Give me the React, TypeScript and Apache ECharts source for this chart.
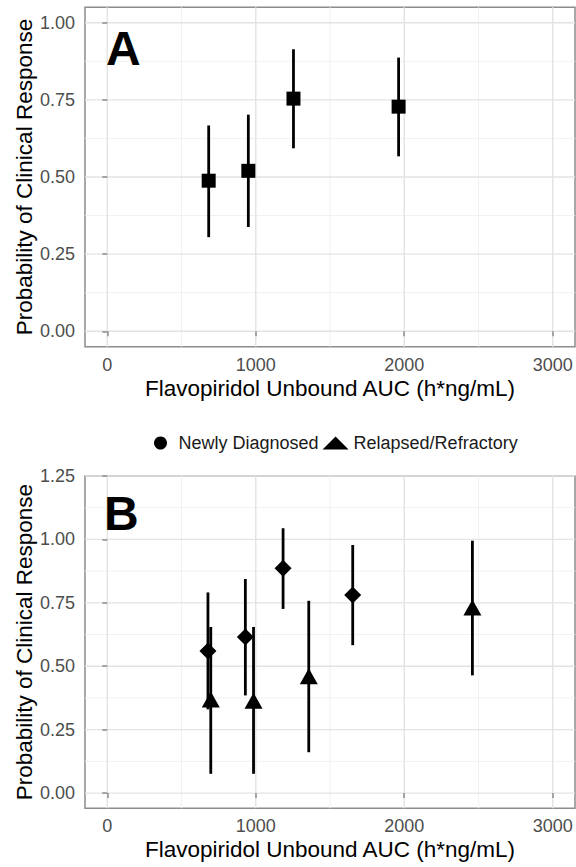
import React, { useEffect, useRef } from "react";
import * as echarts from "echarts";

// Panel A: all patients
const aucA = [683, 950, 1254, 1962];
const probA = [0.488, 0.52, 0.754, 0.728];
const lowA = [0.305, 0.338, 0.593, 0.567];
const highA = [0.667, 0.702, 0.914, 0.887];

// Panel B: Newly Diagnosed
const aucND = [678, 930, 1184, 1653];
const probND = [0.56, 0.615, 0.886, 0.781];
const lowND = [0.33, 0.385, 0.726, 0.583];
const highND = [0.791, 0.844, 1.044, 0.978];

// Panel B: Relapsed/Refractory
const aucRR = [697, 985, 1357, 2459];
const probRR = [0.369, 0.364, 0.461, 0.732];
const lowRR = [0.076, 0.076, 0.161, 0.464];
const highRR = [0.655, 0.655, 0.758, 0.995];

// Axis breaks
const xTicks = [0, 1000, 2000, 3000];
const xMinor = [500, 1500, 2500];
const yTicksA = [0, 0.25, 0.5, 0.75, 1.0];
const yMinorA = [0.125, 0.375, 0.625, 0.875];
const yTicksB = [0, 0.25, 0.5, 0.75, 1.0, 1.25];
const yMinorB = [0.125, 0.375, 0.625, 0.875, 1.125];

const FONT = "Liberation Sans, Arial, sans-serif";
const BORDER = "#8c8c8c";

function gridData(yMajor: number[], yMinor: number[]) {
  return [
    ...yMinor.map((v) => [v, 1]),
    ...xMinor.map((v) => [v, 3]),
    ...yMajor.map((v) => [v, 0]),
    ...xTicks.map((v) => [v, 2]),
  ];
}

function gridRender(params: any, api: any) {
  const v = api.value(0);
  const k = api.value(1);
  const cs = params.coordSys;
  const major = k === 0 || k === 2;
  const style = { stroke: major ? "#e3e3e3" : "#f1f1f1", lineWidth: major ? 1.4 : 1 };
  if (k === 0 || k === 1) {
    const y = api.coord([0, v])[1];
    return { type: "line", shape: { x1: cs.x, y1: y, x2: cs.x + cs.width, y2: y }, style };
  }
  const x = api.coord([v, 0])[0];
  return { type: "line", shape: { x1: x, y1: cs.y, x2: x, y2: cs.y + cs.height }, style };
}

function barRender(params: any, api: any) {
  const x = api.value(0);
  const p1 = api.coord([x, api.value(1)]);
  const p2 = api.coord([x, api.value(2)]);
  return {
    type: "line",
    shape: { x1: p1[0], y1: p1[1], x2: p2[0], y2: p2[1] },
    style: { stroke: "#000", lineWidth: 2.8 },
  };
}

function xAxisOpt(gridIndex: number) {
  return {
    type: "value",
    gridIndex,
    min: -150,
    max: 3150,
    axisLine: { show: false },
    axisTick: { show: true, length: 5, lineStyle: { color: BORDER, width: 1.5 }, customValues: xTicks },
    axisLabel: {
      customValues: xTicks,
      color: "#4d4d4d",
      fontSize: 18,
      fontFamily: FONT,
      margin: 9,
      formatter: (v: number) => String(v),
    },
    splitLine: { show: false },
    name: "Flavopiridol Unbound AUC (h*ng/mL)",
    nameLocation: "middle",
    nameGap: 30,
    nameMoveOverlap: false,
    nameTextStyle: { fontSize: 22.5, color: "#000", fontFamily: FONT },
  };
}

function yAxisOpt(gridIndex: number, min: number, max: number, ticks: number[]) {
  return {
    type: "value",
    gridIndex,
    min,
    max,
    axisLine: { show: false },
    axisTick: { show: true, length: 5, lineStyle: { color: BORDER, width: 1.5 }, customValues: ticks },
    axisLabel: {
      customValues: ticks,
      color: "#4d4d4d",
      fontSize: 18,
      fontFamily: FONT,
      margin: 10,
      formatter: (v: number) => v.toFixed(2),
    },
    splitLine: { show: false },
    name: "Probability of Clinical Response",
    nameLocation: "middle",
    nameGap: 49,
    nameMoveOverlap: false,
    nameTextStyle: { fontSize: 22.5, color: "#000", fontFamily: FONT },
  };
}

export default function App() {
  const ref = useRef<HTMLDivElement>(null);
  useEffect(() => {
    if (!ref.current) return;
    const chart = echarts.init(ref.current, null, { renderer: "svg" });
    const option: any = {
      animation: false,
      backgroundColor: "#fff",
      textStyle: { fontFamily: FONT },
      grid: [
        { left: 85, top: 7.3, width: 490, height: 339.4, show: true, borderColor: BORDER, borderWidth: 1.5, containLabel: false },
        { left: 85, top: 476, width: 490, height: 332.3, show: true, borderColor: BORDER, borderWidth: 1.5, containLabel: false },
      ],
      xAxis: [xAxisOpt(0), xAxisOpt(1)],
      yAxis: [yAxisOpt(0, -0.05, 1.05, yTicksA), yAxisOpt(1, -0.06, 1.25, yTicksB)],
      legend: {
        left: 154,
        top: 434,
        padding: 0,
        itemWidth: 26,
        itemHeight: 13,
        itemGap: 4,
        textStyle: { fontSize: 18, color: "#1a1a1a", fontFamily: FONT },
        data: [
          { name: "Newly Diagnosed", icon: "circle" },
          { name: "Relapsed/Refractory", icon: "triangle" },
        ],
      },
      graphic: [
        {
          type: "text",
          left: 106,
          top: 24,
          z: 100,
          style: { text: "A", fontSize: 48, fontWeight: "bold", fontFamily: FONT, fill: "#000" },
        },
        {
          type: "text",
          left: 104,
          top: 489,
          z: 100,
          style: { text: "B", fontSize: 48, fontWeight: "bold", fontFamily: FONT, fill: "#000" },
        },
      ],
      series: [
        {
          type: "custom",
          xAxisIndex: 0,
          yAxisIndex: 0,
          z: 0,
          silent: true,
          renderItem: gridRender,
          data: gridData(yTicksA, yMinorA),
        },
        {
          type: "custom",
          xAxisIndex: 1,
          yAxisIndex: 1,
          z: 0,
          silent: true,
          renderItem: gridRender,
          data: gridData(yTicksB, yMinorB),
        },
        {
          type: "custom",
          name: "barsA",
          xAxisIndex: 0,
          yAxisIndex: 0,
          z: 2,
          renderItem: barRender,
          encode: { x: 0, y: [1, 2] },
          data: aucA.map((x, i) => [x, lowA[i], highA[i]]),
        },
        {
          type: "scatter",
          name: "All",
          xAxisIndex: 0,
          yAxisIndex: 0,
          z: 3,
          symbol: "rect",
          symbolSize: 14,
          itemStyle: { color: "#000", opacity: 1 },
          data: aucA.map((x, i) => [x, probA[i]]),
        },
        {
          type: "custom",
          name: "barsND",
          xAxisIndex: 1,
          yAxisIndex: 1,
          z: 2,
          renderItem: barRender,
          encode: { x: 0, y: [1, 2] },
          data: aucND.map((x, i) => [x, lowND[i], highND[i]]),
        },
        {
          type: "custom",
          name: "barsRR",
          xAxisIndex: 1,
          yAxisIndex: 1,
          z: 2,
          renderItem: barRender,
          encode: { x: 0, y: [1, 2] },
          data: aucRR.map((x, i) => [x, lowRR[i], highRR[i]]),
        },
        {
          type: "scatter",
          name: "Newly Diagnosed",
          xAxisIndex: 1,
          yAxisIndex: 1,
          z: 3,
          symbol: "diamond",
          symbolSize: 17,
          itemStyle: { color: "#000", opacity: 1 },
          data: aucND.map((x, i) => [x, probND[i]]),
        },
        {
          type: "scatter",
          name: "Relapsed/Refractory",
          xAxisIndex: 1,
          yAxisIndex: 1,
          z: 3,
          symbol: "triangle",
          symbolSize: [18, 16],
          itemStyle: { color: "#000", opacity: 1 },
          data: aucRR.map((x, i) => [x, probRR[i]]),
        },
      ],
    };
    chart.setOption(option);
    return () => chart.dispose();
  }, []);
  return (
    <div
      ref={ref}
      style={{ position: "absolute", left: 0, top: 0, width: 576, height: 867, background: "#fff" }}
    />
  );
}
